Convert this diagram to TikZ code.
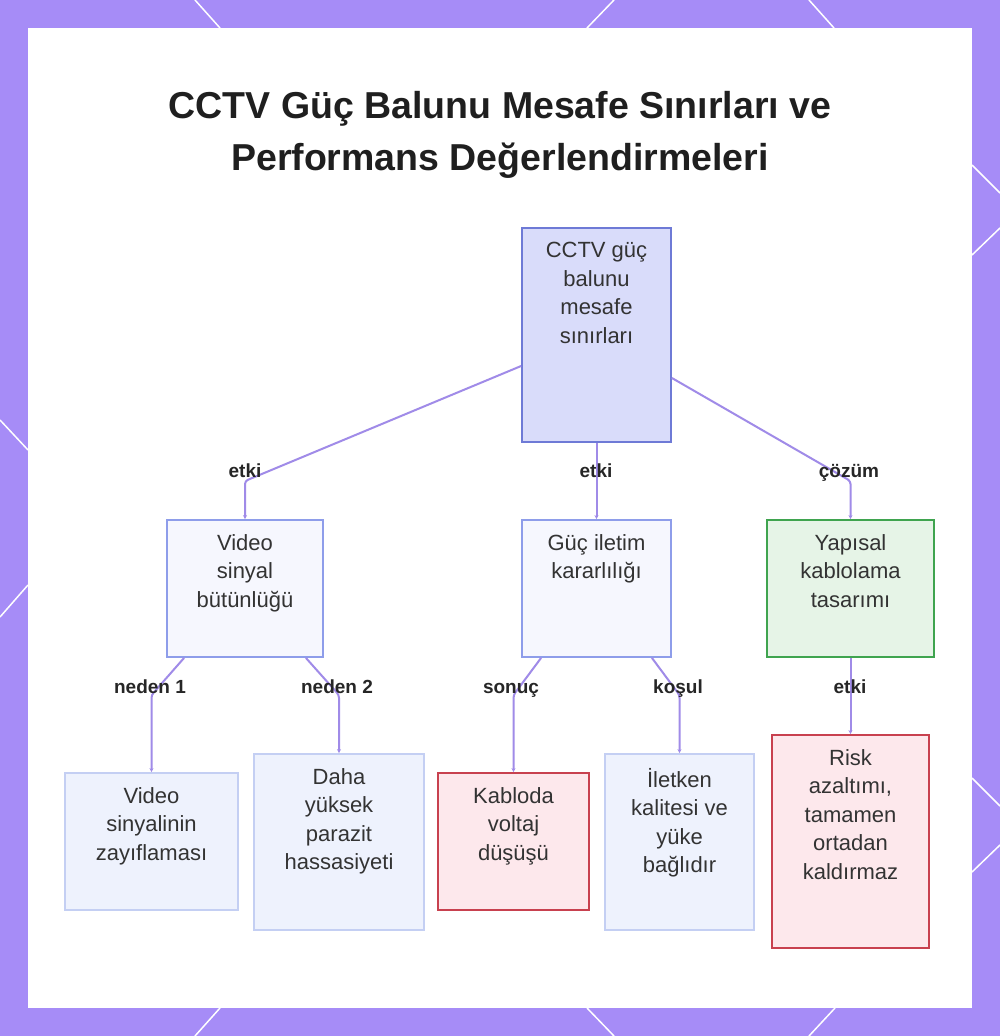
\documentclass[tikz,border=0pt]{standalone}
\usepackage{fontspec}
\setmainfont{Liberation Sans}
\usepackage{xcolor}
\usetikzlibrary{positioning, arrows.meta, calc}

\definecolor{frame}{HTML}{A68CF7}
\definecolor{edgec}{HTML}{A08BE8}
\definecolor{rootfill}{HTML}{D9DCFA}
\definecolor{rootdraw}{HTML}{6E7AD6}
\definecolor{midfill}{HTML}{F6F7FE}
\definecolor{middraw}{HTML}{8E9DEA}
\definecolor{leaffill}{HTML}{EEF2FD}
\definecolor{leafdraw}{HTML}{C4CFF3}
\definecolor{goodfill}{HTML}{E6F4E7}
\definecolor{gooddraw}{HTML}{3FA44F}
\definecolor{badfill}{HTML}{FDE8EC}
\definecolor{baddraw}{HTML}{C8414F}
\definecolor{ink}{HTML}{333333}

\begin{document}
\begin{tikzpicture}[x=1pt, y=-1pt,
    box/.style={draw, rectangle, line width=1.8pt, inner sep=0pt},
    rootbox/.style={box, fill=rootfill, draw=rootdraw},
    midbox/.style={box, fill=midfill, draw=middraw},
    leafbox/.style={box, fill=leaffill, draw=leafdraw},
    goodbox/.style={box, fill=goodfill, draw=gooddraw},
    badbox/.style={box, fill=badfill, draw=baddraw},
    txt/.style={inner sep=0pt, align=center, text=ink, font=\fontsize{22}{28.5}\selectfont,
      execute at begin node={\rule{0pt}{17pt}}},
    lbl/.style={inner sep=0pt, text height=13pt, text depth=4pt, text=black!85,
      font=\fontsize{19}{20}\selectfont\bfseries},
    edge/.style={draw=edgec, line width=2pt, rounded corners=3pt, -{Stealth[length=4pt, width=4pt]}}]

  \fill[frame] (0,0) rectangle (1000,1036);
  \fill[white] (28,28) rectangle (972,1008);
  \useasboundingbox (0,0) rectangle (1000,1036);
  \foreach \xa/\ya/\xb/\yb in {195/0/220/28, 614/0/587/28, 809/0/834/28,
      220/1008/195/1036, 587/1008/614/1036, 835/1008/809/1036,
      972/165/1000/193, 972/255/1000/228, 972/778/1000/806, 972/872/1000/845,
      0/420/28/450, 0/617/28/585}
    \draw[white, line width=1.5pt] (\xa,\ya) -- (\xb,\yb);

  \node[font=\fontsize{37.5}{52}\selectfont\bfseries, align=center, text=black!88] (title) at (500,135)
    {CCTV Güç Balunu Mesafe Sınırları ve\\Performans Değerlendirmeleri};

  \node[rootbox, minimum width=149, minimum height=214] (root) at (596.5,335) {};
  \node[midbox, minimum width=156, minimum height=137] (vsb) at (245,588.5) {};
  \node[midbox, minimum width=149, minimum height=137] (guc) at (596.5,588.5) {};
  \node[goodbox, minimum width=167, minimum height=137] (yap) at (850.5,588.5) {};
  \node[leafbox, minimum width=173, minimum height=137] (vsz) at (151.5,841.5) {};
  \node[leafbox, minimum width=170, minimum height=176] (daha) at (339,842) {};
  \node[badbox, minimum width=151, minimum height=137] (kab) at (513.5,841.5) {};
  \node[leafbox, minimum width=149, minimum height=176] (ilet) at (679.5,842) {};
  \node[badbox, minimum width=157, minimum height=213] (risk) at (850.5,841.5) {};

  \node[txt, below=15pt of root.north] (root-t) {CCTV güç\\balunu\\mesafe\\sınırları};
  \node[txt, below=15pt of vsb.north] (vsb-t) {Video\\sinyal\\bütünlüğü};
  \node[txt, below=15pt of guc.north] (guc-t) {Güç iletim\\kararlılığı};
  \node[txt, below=15pt of yap.north] (yap-t) {Yapısal\\kablolama\\tasarımı};
  \node[txt, below=15pt of vsz.north] (vsz-t) {Video\\sinyalinin\\zayıflaması};
  \node[txt, below=15pt of daha.north] (daha-t) {Daha\\yüksek\\parazit\\hassasiyeti};
  \node[txt, below=15pt of kab.north] (kab-t) {Kabloda\\voltaj\\düşüşü};
  \node[txt, below=15pt of ilet.north] (ilet-t) {İletken\\kalitesi ve\\yüke\\bağlıdır};
  \node[txt, below=15pt of risk.north] (risk-t) {Risk\\azaltımı,\\tamamen\\ortadan\\kaldırmaz};

  \draw[edge] ([yshift=-31pt]root.west) -- (vsb.north |- 0,481) -- (vsb.north);
  \draw[edge] (root.south) -- (guc.north);
  \draw[edge] ([yshift=-43pt]root.east) -- (yap.north |- 0,481) -- (yap.north);
  \draw[edge] ([xshift=18pt]vsb.south west) -- (vsz.north |- 0,695) -- (vsz.north);
  \draw[edge] ([xshift=-18pt]vsb.south east) -- (daha.north |- 0,695) -- (daha.north);
  \draw[edge] ([xshift=20pt]guc.south west) -- (kab.north |- 0,695) -- (kab.north);
  \draw[edge] ([xshift=-20pt]guc.south east) -- (ilet.north |- 0,695) -- (ilet.north);
  \draw[edge] (yap.south) -- (risk.north);

  \node[lbl] (e1) at (245,473) {etki};
  \node[lbl] (e2) at (596,473) {etki};
  \node[lbl] (e3) at (849,473) {çözüm};
  \node[lbl] (e4) at (150,689) {neden 1};
  \node[lbl] (e5) at (337,689) {neden 2};
  \node[lbl] (e6) at (511,689) {sonuç};
  \node[lbl] (e7) at (678,689) {koşul};
  \node[lbl] (e8) at (850,689) {etki};
\end{tikzpicture}
\end{document}
